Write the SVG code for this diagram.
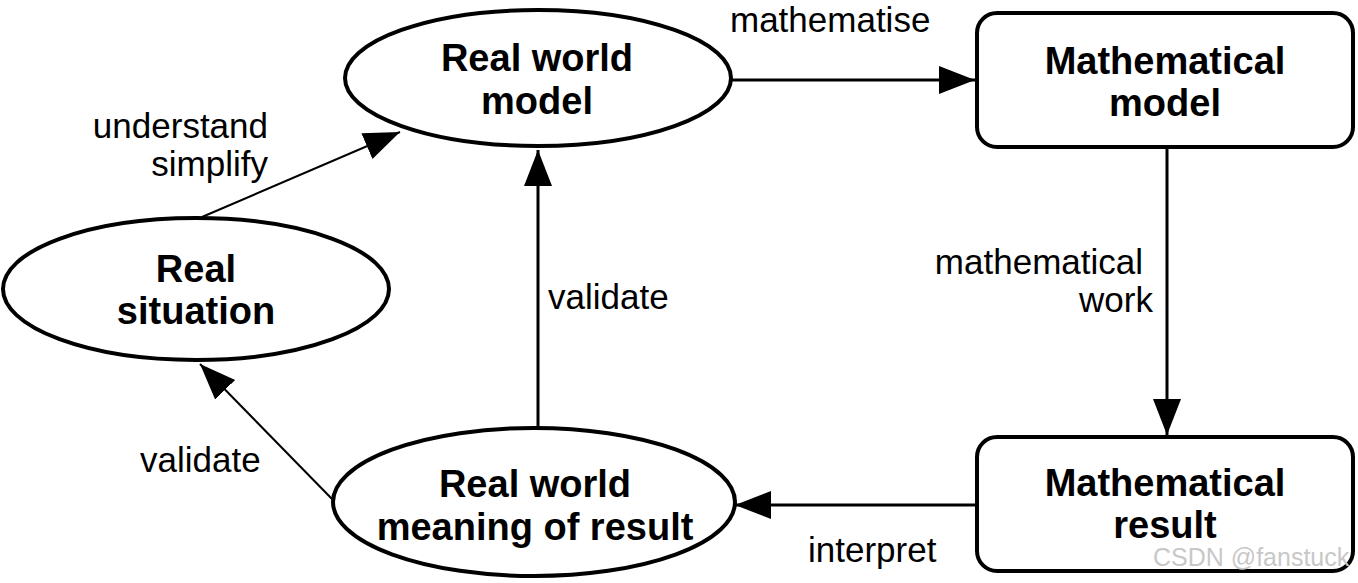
<svg xmlns="http://www.w3.org/2000/svg" width="1358" height="583" viewBox="0 0 1358 583">
<style>
.node{fill:#fff;stroke:#000;stroke-width:4}
.nt{font-family:"Liberation Sans",Arial,sans-serif;font-weight:bold;font-size:38px;fill:#000;text-anchor:middle}
.lbl{font-family:"Liberation Sans",Arial,sans-serif;font-size:35px;fill:#000}
.c{stroke:#000;stroke-width:3;fill:none}
.d{stroke:#000;stroke-width:2;fill:none}
</style>
<defs>
<marker id="ah" markerUnits="userSpaceOnUse" markerWidth="40" markerHeight="32" refX="36" refY="14" orient="auto">
<path d="M0,0 L36,14 L0,28 Z" fill="#000"/>
</marker>
</defs>
<rect width="1358" height="583" fill="#fff"/>
<g id="connectors">
<line class="d" x1="202" y1="217" x2="400" y2="132" marker-end="url(#ah)"/>
<line class="c" x1="732" y1="80" x2="975" y2="80" marker-end="url(#ah)"/>
<line class="c" x1="1167" y1="147" x2="1167" y2="435" marker-end="url(#ah)"/>
<line class="c" x1="977" y1="505" x2="735" y2="505" marker-end="url(#ah)"/>
<line class="c" x1="538" y1="428" x2="538" y2="150" marker-end="url(#ah)"/>
<line class="d" x1="333" y1="500" x2="200" y2="364" marker-end="url(#ah)"/>
<text class="lbl" x="730" y="32">mathematise</text>
<text class="lbl" x="268" y="138" text-anchor="end">understand</text>
<text class="lbl" x="268" y="176" text-anchor="end">simplify</text>
<text class="lbl" x="1143" y="274" text-anchor="end">mathematical</text>
<text class="lbl" x="1153" y="312" text-anchor="end">work</text>
<text class="lbl" x="548" y="309">validate</text>
<text class="lbl" x="140" y="472">validate</text>
<text class="lbl" x="808" y="562">interpret</text>
</g>
<g id="real-world-model">
<ellipse class="node" cx="538" cy="78" rx="193" ry="68"/>
<text class="nt" x="537" y="71">Real world</text>
<text class="nt" x="537" y="114">model</text>
</g>
<g id="mathematical-model">
<rect class="node" x="977" y="13" width="376" height="134" rx="20"/>
<text class="nt" x="1165" y="74">Mathematical</text>
<text class="nt" x="1165" y="116">model</text>
</g>
<g id="real-situation">
<ellipse class="node" cx="196" cy="289" rx="193" ry="71"/>
<text class="nt" x="196" y="282">Real</text>
<text class="nt" x="196" y="324">situation</text>
</g>
<g id="real-world-meaning">
<ellipse class="node" cx="534" cy="502" rx="201" ry="74"/>
<text class="nt" x="535" y="497">Real world</text>
<text class="nt" x="535" y="540">meaning of result</text>
</g>
<g id="mathematical-result">
<rect class="node" x="977" y="437" width="376" height="134" rx="20"/>
<text class="nt" x="1165" y="496">Mathematical</text>
<text class="nt" x="1165" y="538">result</text>
</g>
<text x="1153" y="566" font-family="Liberation Sans,Arial,sans-serif" font-size="25" fill="#c8c8c8">CSDN @fanstuck</text>
</svg>
